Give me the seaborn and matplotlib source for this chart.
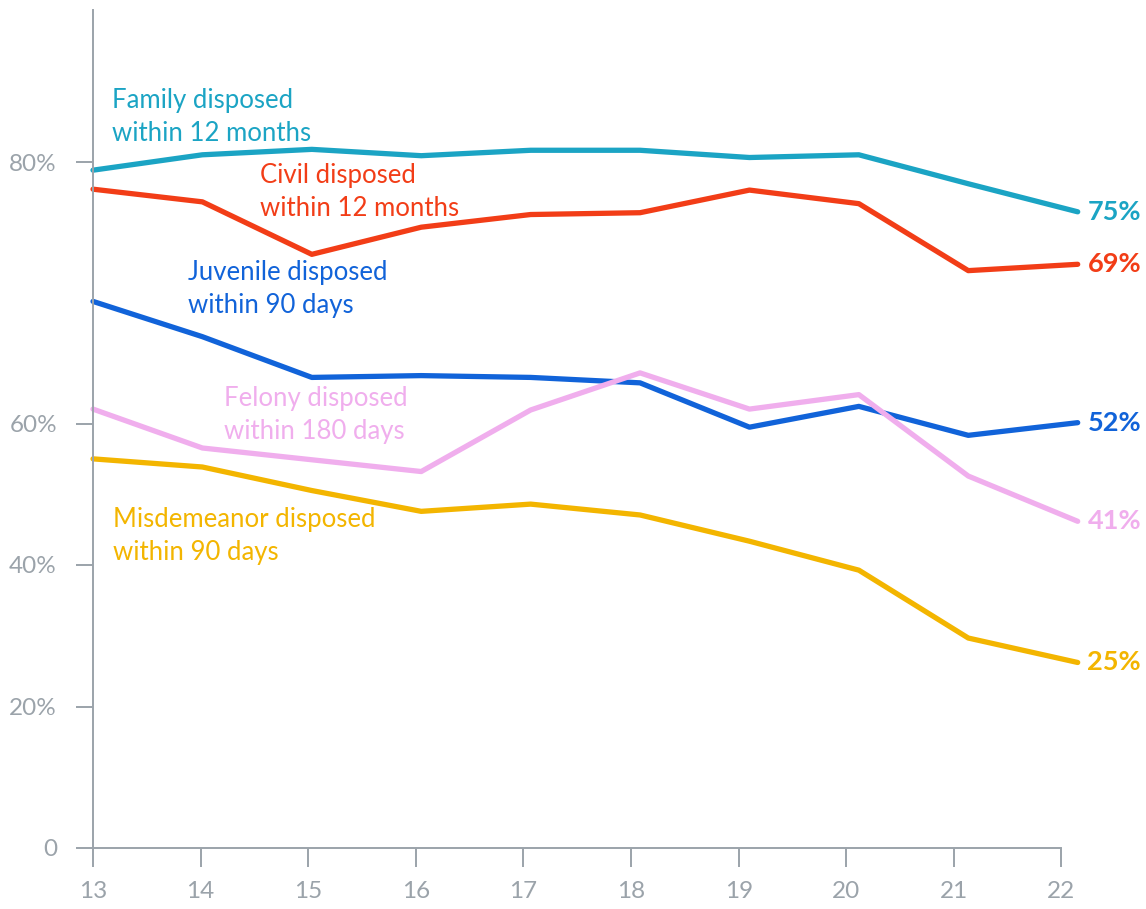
import numpy as np
import pandas as pd
import matplotlib
matplotlib.use("Agg")
import matplotlib.pyplot as plt
import seaborn as sns

# ---------------- data ----------------
years = [13, 14, 15, 16, 17, 18, 19, 20, 21, 22]
family = [79.6, 81.3, 81.9, 81.2, 81.8, 81.8, 81.0, 81.3, 78.1, 75.0]
civil = [77.5, 76.1, 70.3, 73.3, 74.7, 74.9, 77.4, 75.9, 68.5, 69.2]
juvenile = [65.1, 61.2, 56.7, 56.9, 56.7, 56.1, 51.2, 53.5, 50.3, 51.7]
felony = [53.2, 48.9, 47.6, 46.3, 53.1, 57.2, 53.2, 54.8, 45.8, 40.8]
misdemeanor = [47.7, 46.8, 44.2, 41.9, 42.7, 41.5, 38.6, 35.4, 27.9, 25.2]

series_names = ["Family", "Civil", "Juvenile", "Felony", "Misdemeanor"]
series_labels = ["Family disposed\nwithin 12 months",
                 "Civil disposed\nwithin 12 months",
                 "Juvenile disposed\nwithin 90 days",
                 "Felony disposed\nwithin 180 days",
                 "Misdemeanor disposed\nwithin 90 days"]
end_labels = ["75%", "69%", "52%", "41%", "25%"]
colors = ["#1ba4c4", "#f23d17", "#1163d9", "#f0aeed", "#f3b500"]

ytick_labels = ["0", "20%", "40%", "60%", "80%"]
xtick_labels = ["13", "14", "15", "16", "17", "18", "19", "20", "21", "22"]

# ---------------- layout / style ----------------
ytick_pos = [4.7, 20.3, 36.0, 51.6, 80.5]
xtick_pos = [13 + 0.9835 * i for i in range(10)]
label_pos = [(13.17, 85.5), (14.53, 77.2), (13.87, 66.5), (14.20, 52.6), (13.18, 39.2)]

gray = "#9ba3aa"
W, H, DPI = 1146, 909, 100

sns.set_theme(style="white")
plt.rcParams["font.family"] = ["Lato", "DejaVu Sans"]

df = pd.DataFrame({
    "year": years * 5,
    "value": family + civil + juvenile + felony + misdemeanor,
    "series": sum([[n] * len(years) for n in series_names], []),
})

fig = plt.figure(figsize=(W / DPI, H / DPI), dpi=DPI)
ax = fig.add_axes([93 / W, 1 - 848 / H, (1077.7 - 93) / W, (848 - 10) / H])

sns.lineplot(data=df, x="year", y="value", hue="series", hue_order=series_names,
             palette=colors, linewidth=3.8, legend=False, ax=ax,
             solid_capstyle="round", clip_on=False)

ax.set_xlim(13, 22)
ax.set_ylim(4.7, 97.3)

for s in ["top", "right"]:
    ax.spines[s].set_visible(False)
for s in ["left", "bottom"]:
    ax.spines[s].set_color(gray)
    ax.spines[s].set_linewidth(1.4)
ax.spines["bottom"].set_bounds(13, xtick_pos[-1])

ax.set_yticks(ytick_pos)
ax.set_yticklabels(ytick_labels)
ax.set_xticks(xtick_pos)
ax.set_xticklabels(xtick_labels)
ax.tick_params(axis="y", left=True, length=12, width=1.4, color=gray,
               labelcolor=gray, labelsize=17.5, pad=14)
ax.tick_params(axis="x", bottom=True, length=14, width=1.4, color=gray,
               labelcolor=gray, labelsize=17.5, pad=10)
ax.set_xlabel("")
ax.set_ylabel("")
ax.grid(False)

vals = [family, civil, juvenile, felony, misdemeanor]
for lab, (lx, ly), c in zip(series_labels, label_pos, colors):
    ax.text(lx, ly, lab, color=c, fontsize=18.5, ha="left", va="center",
            linespacing=1.4)
for v, el, c in zip(vals, end_labels, colors):
    ax.annotate(el, xy=(years[-1], v[-1]), xytext=(7, 0),
                textcoords="offset points", color=c, fontsize=19.5,
                fontweight="bold", ha="left", va="center", annotation_clip=False)

fig.savefig("out.png", dpi=DPI)
